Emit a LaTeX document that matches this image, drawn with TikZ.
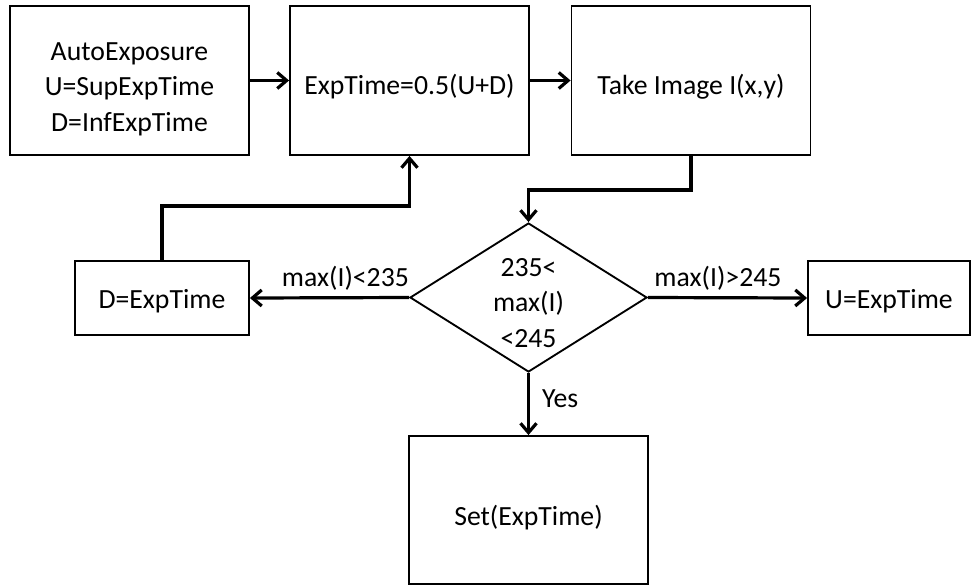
\documentclass[tikz,border=0pt]{standalone}
\usepackage{fontspec}
\setmainfont{Carlito}
\usetikzlibrary{arrows.meta,shapes.geometric}
\begin{document}
\begin{tikzpicture}[x=0.75pt,y=-0.75pt,
  txt/.style={font=\fontsize{20.8}{26.6}\selectfont, align=center},
  box/.style={txt, draw, line width=1.4pt, inner sep=0pt},
  bigbox/.style={box, minimum width=179.25pt, minimum height=111.75pt},
  smallbox/.style={box, minimum height=55.5pt},
  decision/.style={draw, line width=1.4pt, diamond, inner sep=0pt,
    minimum width=177.75pt, minimum height=111.75pt},
  flow/.style={line width=2.4pt, -{Straight Barb[length=7pt,width=12pt,line width=2.4pt]}},
  lbl/.style={font=\fontsize{20.8}{24}\selectfont, inner sep=1pt}]
\useasboundingbox (0,0) rectangle (975,586);
\fill[white] (0,0) rectangle (975,586);

% process boxes (struts set the text a little below the box centre)
\node[bigbox] (auto) at (129.5,80.5) {\rule{0pt}{26pt}AutoExposure\\U=SupExpTime\\D=InfExpTime};
\node[bigbox] (mid) at (409.5,80.5) {\rule{0pt}{24pt}ExpTime=0.5(U+D)};
\node[bigbox] (take) at (691,80.5) {\rule{0pt}{24pt}Take Image I(x,y)};
\node[decision, label={[txt, yshift=-4pt]center:235<\\max(I)\\<245}] (test) at (528.5,297.5) {};
\node[smallbox, minimum width=130.5pt] (down) at (162,298) {\rule{0pt}{19pt}D=ExpTime};
\node[smallbox, minimum width=121.5pt] (up) at (889,298) {\rule{0pt}{19pt}U=ExpTime};
\node[bigbox, minimum height=111pt] (set) at (528.5,510) {\rule{0pt}{27pt}Set(ExpTime)};

% connectors
\draw[flow] (auto) -- (mid);
\draw[flow] (mid) -- (take);
\draw[flow] (take.south) -- ++(0,34) -| (test.north);
\draw[flow] (test.west) -- node[lbl, pos=0.40, above=3pt] {max(I)<235} (down.east);
\draw[flow] (test.east) -- node[lbl, pos=0.44, above=3pt] {max(I)>245} (up.west);
\draw[flow] (test.south) -- node[lbl, pos=0.41, right=8pt] {Yes} (set.north);
\draw[flow] (down.north) -- ++(0,-54) -| (mid.south);
\end{tikzpicture}
\end{document}
